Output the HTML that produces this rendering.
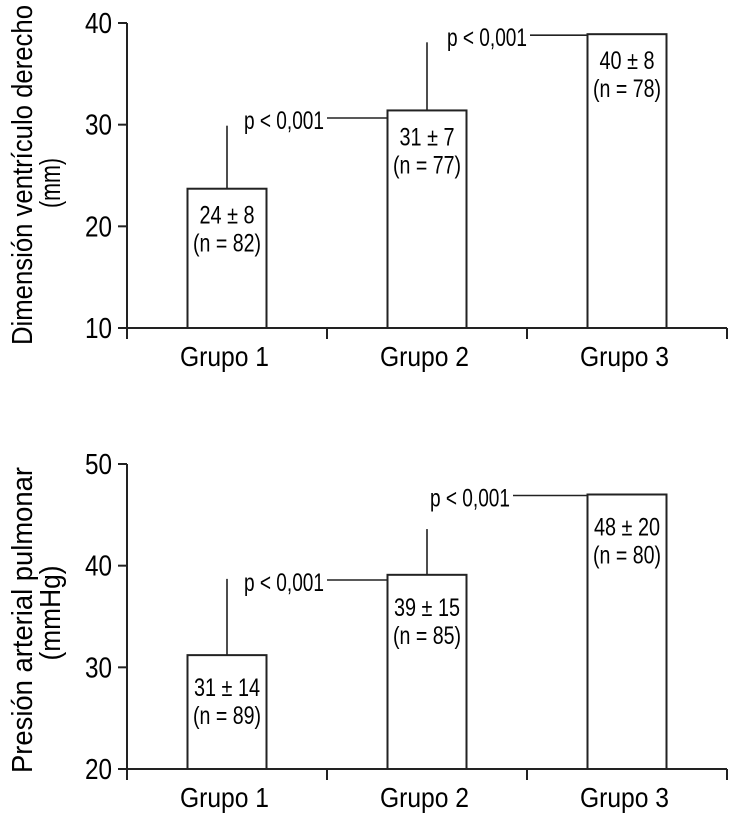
<!DOCTYPE html>
<html><head><meta charset="utf-8"><style>
html,body{margin:0;padding:0;background:#fff;}
svg{display:block;font-family:"Liberation Sans Narrow","Liberation Sans",sans-serif;}
</style></head><body>
<svg id="c" width="730" height="816" viewBox="0 0 730 816"></svg>
<script>
const categories = ["Grupo 1","Grupo 2","Grupo 3"];
const topMeans = [23.7, 31.4, 38.9];
const topErrTops = [29.9, 38.1, null];
const topLabels = ["24 ± 8","31 ± 7","40 ± 8"];
const topNs = ["(n = 82)","(n = 77)","(n = 78)"];
const topTicks = [10,20,30,40];
const botMeans = [31.2, 39.1, 47.0];
const botErrTops = [38.7, 43.6, null];
const botLabels = ["31 ± 14","39 ± 15","48 ± 20"];
const botNs = ["(n = 89)","(n = 85)","(n = 80)"];
const botTicks = [20,30,40,50];

const NS="http://www.w3.org/2000/svg";
const svg=document.getElementById('c');
function mk(tag,attrs,parent){const e=document.createElementNS(NS,tag);for(const k in attrs)e.setAttribute(k,attrs[k]);(parent||svg).appendChild(e);return e;}
function fit(e,len){e.setAttribute('textLength',len);e.setAttribute('lengthAdjust','spacingAndGlyphs');}

function panel(cfg){
  const g=mk('g',{});
  
  
  const x0=127,x1=727;
  const y=v=>cfg.base-(v-cfg.ticks[0])*(cfg.base-cfg.top)/(cfg.ticks[cfg.ticks.length-1]-cfg.ticks[0]);
  const band=(x1-x0)/categories.length;
  const cx=i=>x0+band*(i+0.5);
  const bw=79;
  const ya=mk('line',{x1:x0,y1:y(cfg.ticks[cfg.ticks.length-1]),x2:x0,y2:cfg.base,stroke:'#222','stroke-width':2},g);
  
  
  const xa=mk('line',{x1:x0-9,y1:cfg.base,x2:x1,y2:cfg.base,stroke:'#222','stroke-width':2},g);
  
  
  cfg.ticks.forEach(t=>{
    mk('line',{x1:x0-9,y1:y(t),x2:x0,y2:y(t),stroke:'#222','stroke-width':2},g);
    const tl=mk('text',{x:85,y:y(t)+10,'font-size':29},g);
    tl.textContent=t;
    fit(tl,27);
    
    
  });
  for(let i=0;i<=categories.length;i++){
    mk('line',{x1:x0+band*i,y1:cfg.base,x2:x0+band*i,y2:cfg.base+11,stroke:'#222','stroke-width':2},g);
  }
  categories.forEach((c,i)=>{
    const cl=mk('text',{x:cx(i)-3-44,y:cfg.base+38,'font-size':28},g);
    cl.textContent=c;
    fit(cl,89);
    
    
    const b=mk('rect',{x:cx(i)-bw/2,y:y(cfg.means[i]),width:bw,height:cfg.base-y(cfg.means[i]),fill:'#fff',stroke:'#222','stroke-width':2},g);
    
    
    if(cfg.err[i]!=null){
      const e=mk('line',{x1:cx(i),y1:y(cfg.means[i]),x2:cx(i),y2:y(cfg.err[i]),stroke:'#222','stroke-width':1.6},g);
      
      
    }
    const w1=cfg.labels[i].length>6?66:55;
    const l1=mk('text',{x:cx(i)-w1/2,y:y(cfg.means[i])+cfg.off1,'font-size':25},g);
    l1.textContent=cfg.labels[i];
    fit(l1,w1);
    
    
    const l2=mk('text',{x:cx(i)-34,y:y(cfg.means[i])+cfg.off1+28,'font-size':25},g);
    l2.textContent=cfg.ns[i];
    fit(l2,68);
    
    
  });
  for(let i=0;i<2;i++){
    const ly=i==0?cfg.p1y:y(cfg.means[2])+1;
    const xs=i==0?cfg.p1x:cfg.p2x;
    const ln=mk('line',{x1:xs+3,y1:ly,x2:cx(i+1)-bw/2,y2:ly,stroke:'#222','stroke-width':1.6},g);
    
    
    const pt=mk('text',{x:xs-80,y:ly+11,'font-size':25},g);
    pt.textContent='p < 0,001';
    fit(pt,80);
    
    
  }
  const t1=mk('text',{x:-cfg.titleLen/2,y:0,'font-size':29,transform:`translate(32,${cfg.titleY}) rotate(-90)`},g);
  t1.textContent=cfg.title;
  fit(t1,cfg.titleLen);
  
  
  const t2=mk('text',{x:-cfg.unitLen/2,y:0,'font-size':29,transform:`translate(60,${cfg.unitY}) rotate(-90)`},g);
  t2.textContent=cfg.unit;
  fit(t2,cfg.unitLen);
  
  
}
panel({name:'right-ventricle-panel',ticks:topTicks,base:328,top:23,means:topMeans,err:topErrTops,labels:topLabels,ns:topNs,off1:35,p1y:118,p1x:324,p2x:527,title:'Dimensión ventrículo derecho',unit:'(mm)',titleY:175,unitY:183,titleLen:340,unitLen:50});
panel({name:'pulmonary-pressure-panel',ticks:botTicks,base:769,top:464,means:botMeans,err:botErrTops,labels:botLabels,ns:botNs,off1:41,p1y:580,p1x:324,p2x:510,title:'Presión arterial pulmonar',unit:'(mmHg)',titleY:620,unitY:613,titleLen:306,unitLen:95});
</script>
</body></html>
